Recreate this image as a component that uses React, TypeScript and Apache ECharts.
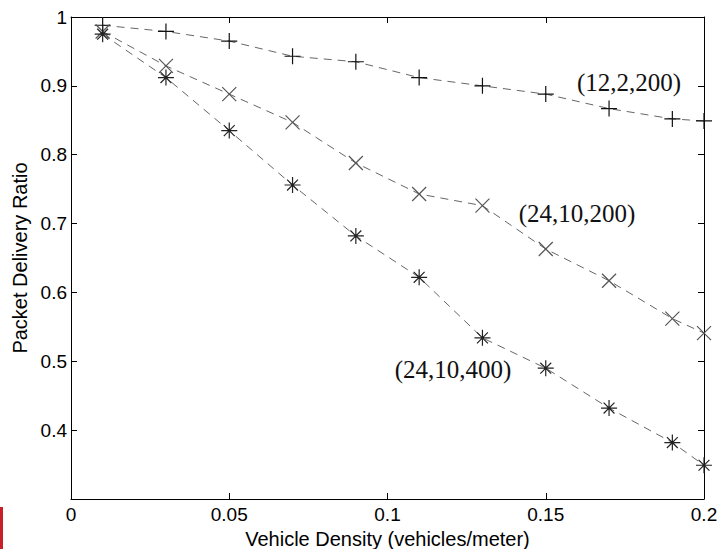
import React, { useEffect, useRef } from "react";
import * as echarts from "echarts";

const densities = [0.01, 0.03, 0.05, 0.07, 0.09, 0.11, 0.13, 0.15, 0.17, 0.19, 0.2];
const pdr_12_2_200 = [0.988, 0.979, 0.965, 0.943, 0.935, 0.912, 0.9, 0.888, 0.867, 0.852, 0.849];
const pdr_24_10_200 = [0.979, 0.929, 0.888, 0.847, 0.788, 0.743, 0.726, 0.663, 0.617, 0.562, 0.541];
const pdr_24_10_400 = [0.975, 0.912, 0.835, 0.756, 0.682, 0.622, 0.534, 0.49, 0.432, 0.382, 0.349];
const seriesNames = ["(12,2,200)", "(24,10,200)", "(24,10,400)"];
const xTicks = [0, 0.05, 0.1, 0.15, 0.2];
const yTicks = [0.4, 0.5, 0.6, 0.7, 0.8, 0.9, 1];

const PLUS = "path://M5,0L5,10M0,5L10,5";
const CROSS = "path://M0,0L10,10M10,0L0,10";
const STAR = "path://M5,0L5,10M0,5L10,5M1.6,1.6L8.4,8.4M8.4,1.6L1.6,8.4";

export default function App() {
  const ref = useRef<HTMLDivElement>(null);
  useEffect(() => {
    if (!ref.current) return;
    const chart = echarts.init(ref.current, undefined, { renderer: "svg" });
    const pts = (ys: number[]) => densities.map((x, i) => [x, ys[i]]);
    const mkSeries = (name: string, ys: number[], symbol: string, size: number, markColor: string) => ({
      name,
      type: "line",
      data: pts(ys),
      symbol,
      symbolSize: size,
      showAllSymbol: true,
      lineStyle: { color: "#666", width: 1, type: [8, 6] },
      itemStyle: { color: "transparent", borderColor: markColor, borderWidth: 1.2 },
      emphasis: { disabled: true },
      z: 3,
    });
    const fmtX = (v: number) => {
      const r = Math.round(v * 100) / 100;
      return xTicks.some((t) => Math.abs(t - r) < 1e-9) ? String(r) : "";
    };
    const fmtY = (v: number) => {
      const r = Math.round(v * 10) / 10;
      if (!yTicks.some((t) => Math.abs(t - r) < 1e-9)) return "";
      return r === 1 ? "1" : r.toFixed(1);
    };
    const axisLine = { show: true, onZero: false, lineStyle: { color: "#000", width: 1 } };
    const axisTick = { show: true, inside: true, length: 6, lineStyle: { color: "#000", width: 1 } };
    chart.setOption({
      animation: false,
      backgroundColor: "#fff",
      grid: { left: 71, right: 16, top: 17, bottom: 50, containLabel: false, outerBoundsMode: "none" },
      xAxis: [
        {
          type: "value",
          min: 0,
          max: 0.2,
          interval: 0.05,
          position: "bottom",
          axisLine,
          axisTick,
          splitLine: { show: false },
          axisLabel: { formatter: fmtX, color: "#000", fontFamily: "Liberation Sans", fontSize: 19, margin: 6 },
          name: "Vehicle Density (vehicles/meter)",
          nameLocation: "middle",
          nameGap: 22,
          nameTextStyle: { color: "#000", fontFamily: "Liberation Sans", fontSize: 20 },
        },
        {
          type: "value",
          min: 0,
          max: 0.2,
          interval: 0.05,
          position: "top",
          axisLine,
          axisTick,
          splitLine: { show: false },
          axisLabel: { show: false },
        },
      ],
      yAxis: [
        {
          type: "value",
          min: 0.3,
          max: 1,
          interval: 0.1,
          position: "left",
          axisLine,
          axisTick,
          splitLine: { show: false },
          axisLabel: { formatter: fmtY, color: "#000", fontFamily: "Liberation Sans", fontSize: 19, margin: 4 },
          name: "Packet Delivery Ratio",
          nameLocation: "middle",
          nameGap: 40,
          nameTextStyle: { color: "#000", fontFamily: "Liberation Sans", fontSize: 20 },
        },
        {
          type: "value",
          min: 0.3,
          max: 1,
          interval: 0.1,
          position: "right",
          axisLine,
          axisTick,
          splitLine: { show: false },
          axisLabel: { show: false },
        },
      ],
      series: [
        mkSeries(seriesNames[0], pdr_12_2_200, PLUS, 16, "#111"),
        mkSeries(seriesNames[1], pdr_24_10_200, CROSS, 14, "#555"),
        mkSeries(seriesNames[2], pdr_24_10_400, STAR, 16, "#222"),
      ],
      graphic: [
        { type: "text", x: 629, y: 82, style: { text: seriesNames[0], fontFamily: "Liberation Serif", fontSize: 25, fill: "#111", align: "center", verticalAlign: "middle" } },
        { type: "text", x: 577, y: 213, style: { text: seriesNames[1], fontFamily: "Liberation Serif", fontSize: 25, fill: "#111", align: "center", verticalAlign: "middle" } },
        { type: "text", x: 453, y: 369, style: { text: seriesNames[2], fontFamily: "Liberation Serif", fontSize: 25, fill: "#111", align: "center", verticalAlign: "middle" } },
        { type: "rect", shape: { x: 0, y: 507, width: 3, height: 42 }, style: { fill: "#c8202a" } },
      ],
    });
    return () => chart.dispose();
  }, []);
  return <div ref={ref} style={{ position: "fixed", left: 0, top: 0, width: 720, height: 549 }} />;
}
